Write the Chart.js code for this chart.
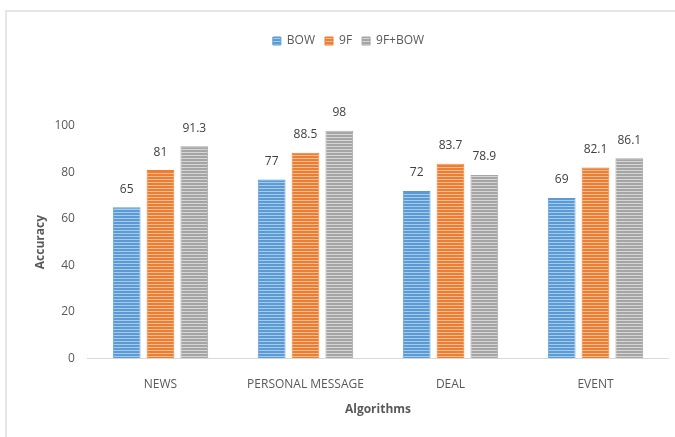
<!DOCTYPE html>
<html>
<head>
<meta charset="utf-8">
<script src="https://cdn.jsdelivr.net/npm/chart.js@4"></script>
<style>
  html, body { margin: 0; padding: 0; background: #fff; }
  #frame {
    position: absolute; left: 5px; top: 10px; width: 680px; height: 440px;
    border-left: 2px solid #e6e6e6; border-top: 2px solid #e6e6e6;
  }
  #wrap { position: absolute; left: 0; top: 0; width: 675px; height: 437px; }
</style>
</head>
<body>
<div id="frame"></div>
<div id="wrap"><canvas id="accuracy-chart"></canvas></div>
<script>
const categories = ['NEWS', 'PERSONAL MESSAGE', 'DEAL', 'EVENT'];
const seriesNames = ['BOW', '9F', '9F+BOW'];
const bowValues = [65, 77, 72, 69];
const nineFValues = [81, 88.5, 83.7, 82.1];
const nineFBowValues = [91.3, 98, 78.9, 86.1];
const yTicks = [0, 20, 40, 60, 80, 100];

// Horizontal line fill used by every bar
const stripes = (base, line) => {
  const c = document.createElement('canvas');
  c.width = 4;
  c.height = 3;
  const g = c.getContext('2d');
  g.fillStyle = base;
  g.fillRect(0, 0, 4, 3);
  g.fillStyle = line;
  g.fillRect(0, 2, 4, 1);
  return g.createPattern(c, 'repeat');
};

const textColor = '#595959';
const font = "'Open Sans', 'Liberation Sans', sans-serif";

const valueLabels = {
  id: 'valueLabels',
  afterDatasetsDraw(c) {
    const g = c.ctx;
    g.save();
    g.fillStyle = '#404040';
    g.font = `12px ${font}`;
    g.textAlign = 'center';
    g.textBaseline = 'middle';
    c.data.datasets.forEach((ds, i) => {
      c.getDatasetMeta(i).data.forEach((bar, j) => {
        g.fillText(String(ds.data[j]), bar.x, bar.y - 18);
      });
    });
    g.restore();
  },
};

const makeSet = (label, data, base, line) => ({
  label,
  data,
  backgroundColor: stripes(base, line),
  borderColor: base,
  borderWidth: 1,
  categoryPercentage: 0.7,
  barPercentage: 0.82,
});

new Chart(document.getElementById('accuracy-chart'), {
  type: 'bar',
  data: {
    labels: categories,
    datasets: [
      makeSet(seriesNames[0], bowValues, '#5b9bd5', '#a9cbea'),
      makeSet(seriesNames[1], nineFValues, '#ed7d31', '#f6bd96'),
      makeSet(seriesNames[2], nineFBowValues, '#a5a5a5', '#d6d6d6'),
    ],
  },
  options: {
    responsive: true,
    maintainAspectRatio: false,
    animation: false,
    layout: {
      padding: { top: 25, bottom: 16, left: 29, right: 7 },
    },
    scales: {
      x: {
        grid: { display: false },
        border: { display: true, color: '#d9d9d9', width: 1 },
        ticks: { color: textColor, font: { family: font, size: 12 }, padding: 11 },
        title: {
          display: true,
          text: 'Algorithms',
          color: textColor,
          font: { family: font, size: 12, weight: 'bold' },
          padding: { top: 0 },
        },
      },
      y: {
        min: 0,
        max: 100,
        afterBuildTicks: (axis) => { axis.ticks = yTicks.map(v => ({ value: v })); },
        grid: { display: false },
        border: { display: false },
        ticks: { color: textColor, font: { family: font, size: 12 }, padding: 5 },
        title: {
          display: true,
          text: 'Accuracy',
          color: textColor,
          font: { family: font, size: 12, weight: 'bold' },
          padding: { bottom: 2 },
        },
      },
    },
    plugins: {
      legend: {
        position: 'top',
        labels: {
          color: textColor,
          font: { family: font, size: 12 },
          boxWidth: 8,
          boxHeight: 8,
          padding: 10,
        },
        padding: 0,
      },
      tooltip: { enabled: false },
    },
  },
  plugins: [valueLabels, {
    id: 'legendGap',
    beforeInit(c) {
      const fit = c.legend.fit;
      c.legend.fit = function () {
        fit.bind(c.legend)();
        this.height += 69;
      };
    },
  }],
});
</script>
</body>
</html>
